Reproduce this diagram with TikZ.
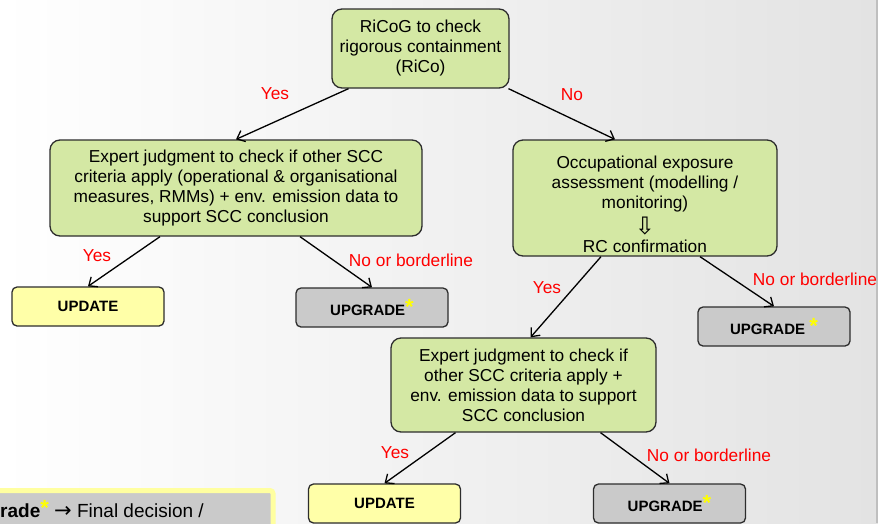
\documentclass[tikz,border=0pt]{standalone}
\usepackage{fontspec}
\setmainfont{Liberation Sans}
\newfontfamily\symfont{DejaVu Sans}
\usetikzlibrary{shapes,arrows.meta,positioning,calc}
\definecolor{boxgreen}{RGB}{212,232,164}
\definecolor{boxyellow}{RGB}{255,255,168}
\definecolor{boxgray}{RGB}{202,202,202}
\definecolor{edgedark}{RGB}{45,45,45}
\definecolor{answerred}{RGB}{255,0,0}
\definecolor{legendyellow}{RGB}{255,255,160}
\definecolor{stary}{RGB}{255,255,0}

\tikzset{
    greenbox/.style={draw=edgedark, line width=1.3pt, fill=boxgreen, rounded corners=10pt,
        align=center, inner sep=2pt, font=\fontsize{17.3}{20}\selectfont},
    smallbox/.style={draw=edgedark, line width=1.3pt, rounded corners=5pt,
        minimum width=152pt, minimum height=39pt, inner sep=0pt,
        font=\fontsize{15}{18}\selectfont\bfseries},
    updatebox/.style={smallbox, fill=boxyellow},
    upgradebox/.style={smallbox, fill=boxgray},
    answer/.style={text=answerred, font=\fontsize{17.3}{20}\selectfont},
    flow/.style={-{Straight Barb[length=7pt,width=12pt]}, line width=1.3pt, black}
}
\newcommand{\ystar}{\raisebox{1.5pt}{\color{stary}\fontsize{22}{22}\selectfont\bfseries *}}

\begin{document}
\begin{tikzpicture}[x=1pt, y=-1pt]
% background
\useasboundingbox (0,0) rectangle (878,523);
\clip (0,0) rectangle (878,523);
\shade[left color=white, right color=black!11] (0,0) rectangle (878,523);
\draw[black!25, line width=2pt] (877,0) -- (877,523);

% decision boxes
\node[greenbox, minimum width=177pt, minimum height=79pt] (ricog) at (420.5,48.5)
    {RiCoG to check\\rigorous containment\\(RiCo)};
\node[greenbox, minimum width=372pt, minimum height=96pt] (expL) at (236,188)
    {Expert judgment to check if other SCC\\criteria apply (operational \& organisational\\measures, RMMs) + env. emission data to\\support SCC conclusion};
\node[greenbox, minimum width=264pt, minimum height=116pt] (occ) at (645,198)
    {\rule{0pt}{25pt}Occupational exposure\\assessment (modelling /\\monitoring)\\[4pt]{\symfont\fontsize{24}{20}\selectfont ⇩}\\[-2pt]RC confirmation};
\node[greenbox, minimum width=265pt, minimum height=94pt] (exp2) at (523.5,385)
    {Expert judgment to check if\\other SCC criteria apply +\\env. emission data to support\\SCC conclusion};

% outcomes
\node[updatebox] (upd1) at (88,306.5) {UPDATE};
\node[upgradebox] (upg1) at (372,307.5) {UPGRADE\ystar};
\node[upgradebox] (upg2) at (774,326.5) {UPGRADE \ystar};
\node[updatebox] (upd2) at (384.5,503.5) {UPDATE};
\node[upgradebox] (upg3) at (669.5,503.5) {UPGRADE\ystar};

% connectors
\draw[flow] ([xshift=-72pt]ricog.south) -- (expL.north);
\draw[flow] ([xshift=88pt]ricog.south) -- ([xshift=-30pt]occ.north);
\draw[flow] ([xshift=-76pt]expL.south) -- (upd1.north);
\draw[flow] ([xshift=64pt]expL.south) -- (upg1.north);
\draw[flow] ([xshift=-44pt]occ.south) -- ([xshift=7pt]exp2.north);
\draw[flow] ([xshift=55pt]occ.south) -- (upg2.north);
\draw[flow] ([xshift=-68pt]exp2.south) -- (upd2.north);
\draw[flow] ([xshift=77pt]exp2.south) -- (upg3.north);

% answers
\node[answer] (yes1) at (275,94) {Yes};
\node[answer] (no1) at (572,95) {No};
\node[answer] (yes2) at (97,256) {Yes};
\node[answer] (no2) at (411,260) {No or borderline};
\node[answer] (yes3) at (547,288) {Yes};
\node[answer] (no3) at (815,279) {No or borderline};
\node[answer] (yes4) at (395,453) {Yes};
\node[answer] (no4) at (709,455) {No or borderline};

% legend (cut by the page)
\node[draw=legendyellow, line width=5pt, fill=boxgray, rounded corners=3pt,
    minimum width=300pt, minimum height=60pt, anchor=north east] (legend) at (275.5,488) {};
\node[anchor=base west, inner sep=0pt, font=\fontsize{19}{22}\selectfont] (legtext) at (0,517)
    {\textbf{rade}\ystar\ {\symfont\fontsize{21}{22}\selectfont →} Final decision /};
\end{tikzpicture}
\end{document}
